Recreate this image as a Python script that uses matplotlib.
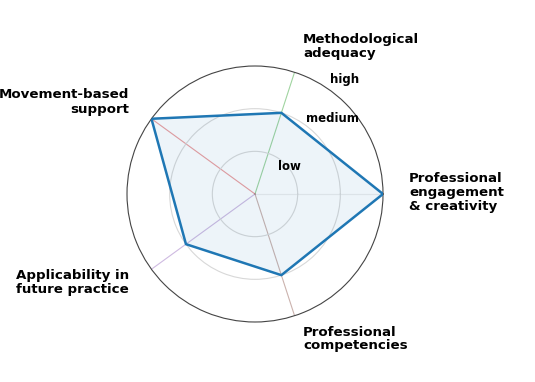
import numpy as np
import matplotlib
matplotlib.use("Agg")
import matplotlib.pyplot as plt

categories = ["Professional\nengagement\n& creativity", "Methodological\nadequacy",
              "Movement-based\nsupport", "Applicability in\nfuture practice",
              "Professional\ncompetencies"]
values = [3, 2, 3, 2, 2]
level_labels = ["low", "medium", "high"]
spoke_colors = ["#bbbbbb", "tab:green", "tab:red", "tab:purple", "tab:brown"]

W, H = 535, 382
fig = plt.figure(figsize=(W / 100, H / 100), dpi=100)
cx, cy, R = 255, 194, 128
ax = fig.add_axes([(cx - R) / W, 1 - (cy + R) / H, 2 * R / W, 2 * R / H], projection="polar")

n = len(categories)
angles = np.linspace(0, 2 * np.pi, n, endpoint=False)
ax.set_ylim(0, 3)
ax.set_xticks([])
ax.set_yticks([1, 2])
ax.set_yticklabels([])
ax.yaxis.grid(True, color="#d8d8d8", lw=0.8)
ax.xaxis.grid(False)
ax.spines["polar"].set_color("#444444")
ax.spines["polar"].set_linewidth(0.8)

for i, (a, c) in enumerate(zip(angles, spoke_colors)):
    ax.plot([a, a], [0, 3], color=c, lw=0.8, alpha=0.45 if i else 0.25, zorder=1)

vals = values + values[:1]
angs = list(angles) + [angles[0]]
ax.fill(angs, vals, color="tab:blue", alpha=0.08, zorder=2)
ax.plot(angs, vals, color="tab:blue", lw=1.8, zorder=3)

# radial level labels
for (px, py), lab in zip([(289, 167), (332, 118), (345, 80)], level_labels):
    fig.text(px / W, 1 - py / H, lab, ha="center", va="center", fontsize=8.5, fontweight="bold")

# category labels
pos = [(409, 193, "left"), (303, 46, "left"), (129, 102, "right"), (129, 283, "right"), (303, 339, "left")]
for (px, py, ha), lab in zip(pos, categories):
    fig.text(px / W, 1 - py / H, lab, ha=ha, va="center", fontsize=9.6, fontweight="bold",
             linespacing=1.1)

fig.savefig("out.png", dpi=100)
